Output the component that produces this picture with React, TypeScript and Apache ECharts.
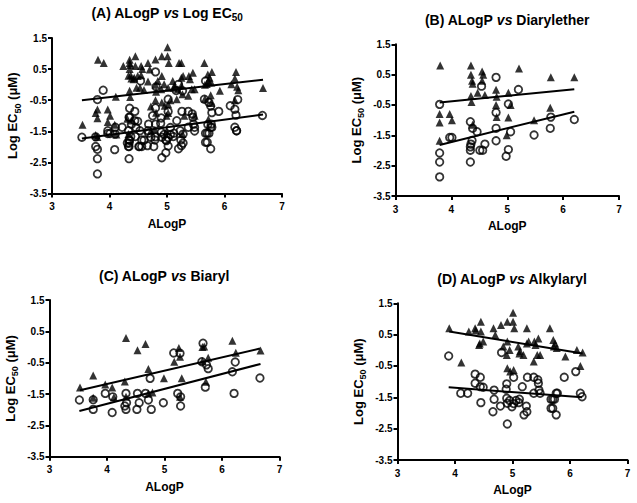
import React, { useEffect, useRef } from "react";
import * as echarts from "echarts";

// Diarylether subset
const bTriangles: number[][] = [[3.8,0.8],[4.35,0.8],[4.35,0.5],[4.37,0.3],[4.38,0.2],[4.55,0.6],[4.57,0.5],[4.55,0.3],[4.35,-0.2],[4.36,-0.4],[4.47,-0.1],[4.6,-0.17],[4.8,0.0],[4.81,-0.23],[4.8,-0.5],[4.81,-0.9],[5.02,-0.1],[5.02,-0.91],[5.06,-0.5],[5.21,0.7],[5.78,0.41],[6.2,0.41],[3.79,-0.8],[3.79,-1.08],[3.97,-0.8],[4.01,-1.0],[3.79,-1.68],[4.38,-1.15],[4.99,-1.5],[5.48,-1.0],[5.77,-0.59]];
const bCircles: number[][] = [[3.79,-0.48],[4.8,0.41],[4.54,0.12],[5.2,0.01],[5.02,-0.47],[4.8,-0.75],[4.34,-1.05],[4.38,-1.27],[4.46,-1.38],[3.97,-1.57],[4.01,-1.57],[4.8,-1.27],[5.06,-1.38],[5.77,-1.27],[6.2,-0.98],[5.78,-0.9],[5.48,-1.49],[4.8,-1.68],[4.6,-1.79],[4.37,-1.67],[4.35,-1.79],[4.34,-1.88],[4.34,-1.99],[4.51,-1.99],[4.56,-1.99],[5.02,-1.97],[4.98,-2.19],[3.79,-2.08],[3.79,-2.38],[4.34,-2.38],[3.79,-2.87]];

// Biaryl subset
const cTriangles: number[][] = [[3.53,-1.29],[3.76,-0.91],[3.76,-1.62],[3.97,-1.2],[4.09,-1.29],[4.12,-1.6],[4.33,0.29],[4.31,-1.1],[4.33,-1.59],[4.53,-0.1],[4.67,0.1],[4.72,-0.7],[4.72,-1.48],[4.79,-1.45],[4.99,-1.0],[5.17,-0.47],[5.25,-0.03],[5.27,-0.31],[5.3,-1.0],[5.27,-1.59],[5.66,0.0],[5.69,0.02],[5.76,-0.34],[5.72,-1.11],[6.18,0.2],[6.24,-0.18],[6.67,-0.11],[5.66,-0.45]];
const cCircles: number[][] = [[3.52,-1.69],[3.76,-1.99],[3.76,-1.68],[3.97,-1.48],[4.1,-1.59],[4.09,-2.09],[4.33,-1.48],[4.34,-1.78],[4.31,-1.88],[4.33,-1.99],[4.53,-1.48],[4.56,-1.78],[4.52,-1.99],[4.67,-1.48],[4.72,-1.69],[4.75,-1.0],[4.77,-1.99],[4.98,-1.78],[5.16,-0.19],[5.23,-1.48],[5.28,-1.59],[5.28,-1.88],[5.27,-0.2],[5.67,0.12],[5.65,-0.47],[5.73,-0.57],[5.76,-0.69],[5.71,-1.28],[6.18,-0.79],[6.23,-0.48],[6.21,-1.48],[6.66,-0.99]];

// Alkylaryl subset
const dTriangles: number[][] = [[3.9,0.7],[4.24,0.6],[4.35,0.7],[4.36,0.63],[4.45,0.91],[4.45,0.6],[4.43,0.22],[4.42,0.17],[4.49,0.28],[4.11,-0.39],[4.67,0.7],[4.7,0.49],[4.8,0.81],[4.84,0.12],[4.91,0.91],[5.01,1.2],[5.01,0.91],[5.03,0.7],[4.91,0.28],[4.95,0.01],[4.9,-0.15],[4.91,-0.57],[5.02,-0.63],[4.96,-0.68],[5.1,0.12],[5.13,-0.03],[5.12,-0.1],[5.19,-0.15],[5.25,0.7],[5.25,0.22],[5.28,0.28],[5.38,0.28],[5.4,0.17],[5.45,0.38],[5.48,-0.15],[5.43,-0.15],[5.37,-0.36],[5.65,0.7],[5.71,0.33],[5.74,0.22],[5.72,0.12],[5.77,0.07],[5.92,-0.2],[6.12,0.01],[6.22,-0.07],[6.18,-0.5]];
const dCircles: number[][] = [[3.89,-0.18],[4.1,-1.37],[4.22,-1.37],[4.35,-0.76],[4.35,-1.05],[4.44,-0.86],[4.44,-1.16],[4.49,-1.18],[4.45,-1.67],[4.68,-1.27],[4.68,-1.56],[4.66,-1.96],[4.79,-1.78],[4.81,-0.07],[4.9,-1.07],[4.89,-1.24],[4.9,-1.53],[4.91,-1.69],[4.95,-1.6],[4.99,-1.8],[5.02,-1.7],[5.06,-1.6],[5.02,-0.86],[4.91,-2.35],[5.12,-1.56],[5.11,-1.67],[5.17,-1.16],[5.2,-2.06],[5.24,-1.78],[5.25,-1.96],[5.26,-0.86],[5.37,-0.86],[5.44,-0.94],[5.45,-1.05],[5.46,-1.27],[5.48,-1.37],[5.37,-1.37],[5.67,-1.56],[5.7,-1.56],[5.73,-1.56],[5.67,-1.85],[5.7,-1.85],[5.76,-1.37],[5.78,-1.37],[5.76,-2.06],[5.9,-0.86],[6.1,-0.68],[6.18,-1.37],[6.21,-1.48]];

// Regression lines: [start, end]
const fitATri: number[][] = [[3.52,-0.5],[6.67,0.16]];
const fitACir: number[][] = [[3.52,-1.73],[6.67,-0.96]];
const fitBTri: number[][] = [[3.79,-0.42],[6.2,0.02]];
const fitBCir: number[][] = [[3.79,-1.82],[6.2,-0.72]];
const fitCTri: number[][] = [[3.53,-1.38],[6.66,-0.05]];
const fitCCir: number[][] = [[3.52,-2.04],[6.67,-0.54]];
const fitDTri: number[][] = [[3.9,0.6],[6.22,-0.1]];
const fitDCir: number[][] = [[3.89,-1.18],[6.21,-1.5]];

const yTickValues: number[] = [-3.5, -2.5, -1.5, -0.5, 0.5, 1.5];
const titles: string[] = [
  "{n|(A) ALogP }{i|vs}{n| Log EC}{s|50}",
  "{n|(B) ALogP }{i|vs}{n| Diarylether}",
  "{n|(C) ALogP }{i|vs}{n| Biaryl}",
  "{n|(D) ALogP }{i|vs}{n| Alkylaryl}",
];

const FONT = "Liberation Sans, Arial, sans-serif";

export default function App() {
  const ref = useRef<HTMLDivElement>(null);
  useEffect(() => {
    if (!ref.current) return;
    const chart = echarts.init(ref.current, undefined, { renderer: "svg" });

    const panels = [
      { tri: [...bTriangles, ...cTriangles, ...dTriangles], cir: [...bCircles, ...cCircles, ...dCircles], ft: fitATri, fc: fitACir, grid: { left: 52, top: 38, width: 230, height: 155.5 }, tx: 167, ty: 14 },
      { tri: bTriangles, cir: bCircles, ft: fitBTri, fc: fitBCir, grid: { left: 395.5, top: 44.3, width: 223.5, height: 151.7 }, tx: 507, ty: 21 },
      { tri: cTriangles, cir: cCircles, ft: fitCTri, fc: fitCCir, grid: { left: 49.5, top: 300, width: 230, height: 156.7 }, tx: 164, ty: 277 },
      { tri: dTriangles, cir: dCircles, ft: fitDTri, fc: fitDCir, grid: { left: 397.5, top: 303.3, width: 230, height: 156.7 }, tx: 512, ty: 280 },
    ];

    const axisLine = { onZero: false, lineStyle: { color: "#000", width: 2 } };
    const axisTick = { length: 4, lineStyle: { color: "#000", width: 2 } };
    const richName = {
      n: { fontFamily: FONT, fontWeight: "bold", fontSize: 13, color: "#000", padding: [0, 0, 3, 0], verticalAlign: "bottom" },
      s: { fontFamily: FONT, fontWeight: "bold", fontSize: 9, color: "#000", verticalAlign: "bottom" },
    };

    const series: any[] = [];
    panels.forEach((p, i) => {
      series.push({
        type: "scatter", xAxisIndex: i, yAxisIndex: i, data: p.cir, symbol: "circle", symbolSize: 7.5,
        itemStyle: { color: "rgba(255,255,255,0)", borderColor: "#000", borderWidth: 1.8 }, z: 2,
      });
      series.push({
        type: "scatter", xAxisIndex: i, yAxisIndex: i, data: p.tri, symbol: "triangle", symbolSize: 8,
        itemStyle: { color: "#000" }, z: 3,
      });
      series.push({
        type: "line", xAxisIndex: i, yAxisIndex: i, data: p.ft, showSymbol: false, symbol: "none",
        lineStyle: { color: "#000", width: 2 }, z: 4,
      });
      series.push({
        type: "line", xAxisIndex: i, yAxisIndex: i, data: p.fc, showSymbol: false, symbol: "none",
        lineStyle: { color: "#000", width: 2 }, z: 4,
      });
    });

    chart.setOption({
      animation: false,
      backgroundColor: "#fff",
      grid: panels.map((p) => ({ ...p.grid, containLabel: false })),
      xAxis: panels.map((_, i) => ({
        type: "value", gridIndex: i, min: 3, max: 7, interval: 1,
        axisLine, axisTick, splitLine: { show: false },
        axisLabel: { color: "#000", fontFamily: FONT, fontWeight: "bold", fontSize: 10, margin: 8 },
        name: "ALogP", nameLocation: "middle", nameGap: 24,
        nameTextStyle: { color: "#000", fontFamily: FONT, fontWeight: "bold", fontSize: 12 },
      })),
      yAxis: panels.map((_, i) => ({
        type: "value", gridIndex: i, min: -3.5, max: 1.5,
        axisLine,
        axisTick: { ...axisTick, customValues: yTickValues },
        splitLine: { show: false },
        axisLabel: { color: "#000", fontFamily: FONT, fontWeight: "bold", fontSize: 10, margin: 5, customValues: yTickValues, formatter: (v: number) => String(v) },
        name: "{n|Log EC}{s|50}{n| (μM)}", nameLocation: "middle", nameGap: 30,
        nameTextStyle: { rich: richName },
      })),
      graphic: panels.map((p, i) => ({
        type: "text", x: p.tx, y: p.ty,
        style: {
          text: titles[i], align: "center", verticalAlign: "middle",
          rich: {
            n: { fontFamily: FONT, fontWeight: "bold", fontSize: 14, fill: "#000", padding: [0, 0, 3, 0], verticalAlign: "bottom" },
            i: { fontFamily: FONT, fontWeight: "bold", fontStyle: "italic", fontSize: 14, fill: "#000", padding: [0, 0, 3, 0], verticalAlign: "bottom" },
            s: { fontFamily: FONT, fontWeight: "bold", fontSize: 10, fill: "#000", verticalAlign: "bottom" },
          },
        },
      })),
      series,
    });
    return () => chart.dispose();
  }, []);
  return <div ref={ref} style={{ position: "absolute", left: 0, top: 0, width: 637, height: 503 }} />;
}
